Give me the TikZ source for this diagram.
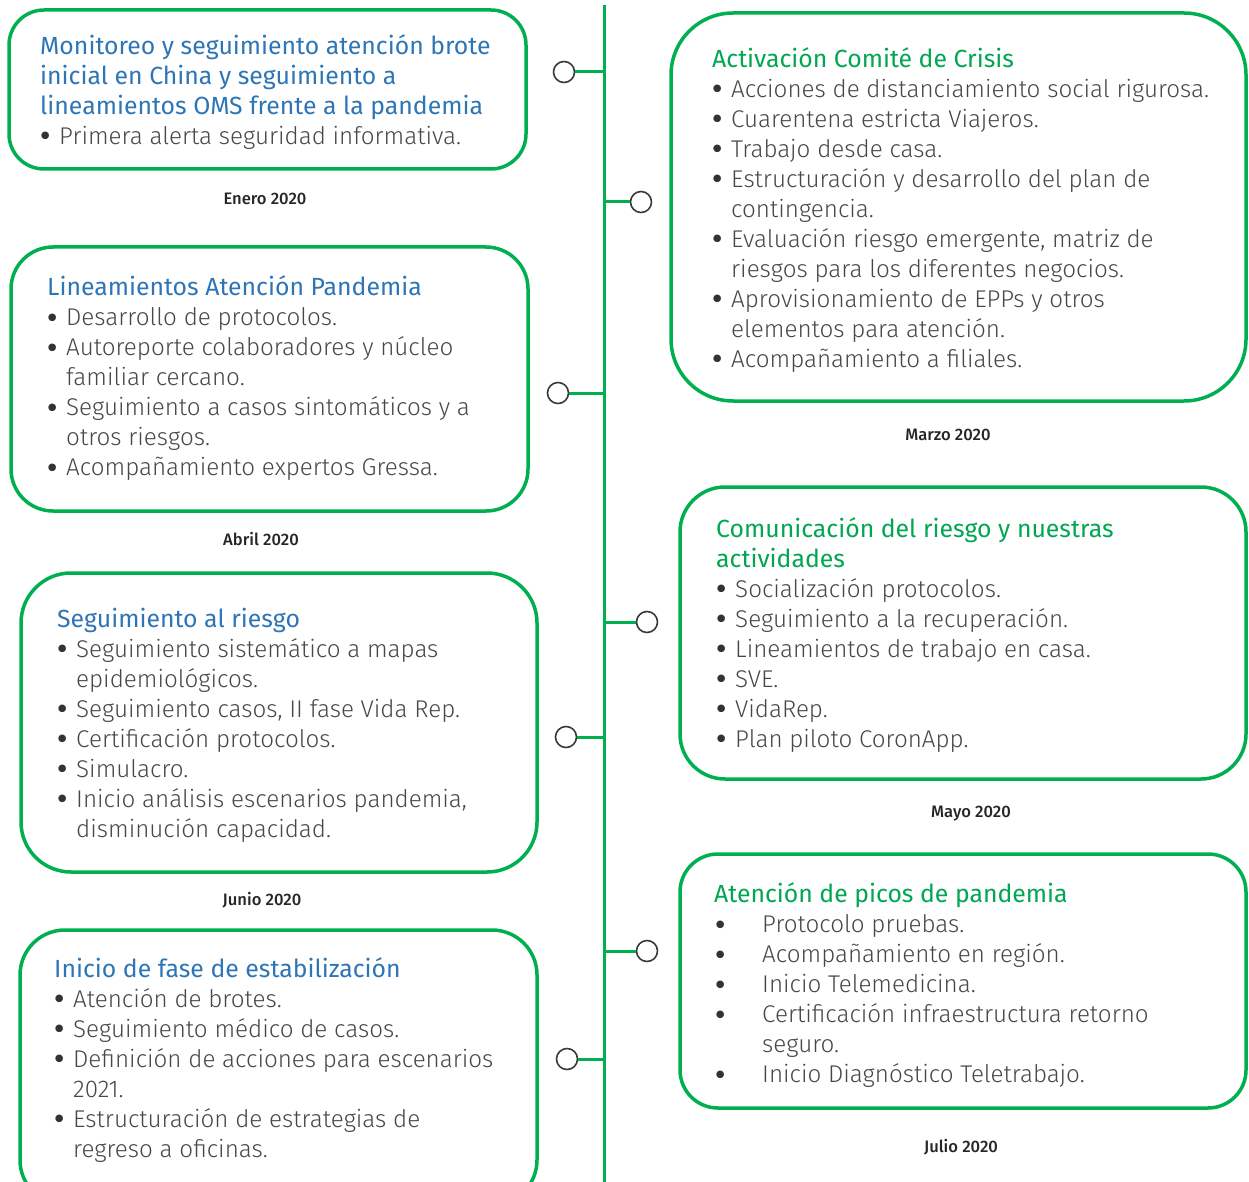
\documentclass[tikz,border=0pt]{standalone}
\usepackage{fontspec}
\setmainfont{Fira Sans}
\newfontfamily\bodyfont{Fira Sans Light}
\newfontfamily\datefont{Fira Sans Medium}
\newfontfamily\bulfont{DejaVu Sans}
\definecolor{tlgreen}{HTML}{00B050}
\definecolor{ttblue}{HTML}{2E75B6}
\definecolor{ttgreen}{HTML}{00A651}
\definecolor{bodygray}{HTML}{474747}
\definecolor{ringgray}{HTML}{3A3A3A}
\newcommand{\ttlb}[1]{{\rmfamily\fontsize{24.8}{30}\selectfont\color{ttblue}#1}}
\newcommand{\ttlg}[1]{{\rmfamily\fontsize{24.8}{30}\selectfont\color{ttgreen}#1}}
\newcommand{\bul}{{\bulfont\fontsize{26}{30}\selectfont\color{black!80}\raisebox{-1.5pt}{•}}}
\newcommand{\itm}[1]{\hspace*{5pt}\makebox[0pt]{\bul}\hspace*{14pt}#1}
\newcommand{\itmw}[1]{\hspace*{6pt}\makebox[0pt]{\bul}\hspace*{42pt}#1}
\newcommand{\cnt}[1]{\hspace*{19pt}#1}
\newcommand{\cntw}[1]{\hspace*{48pt}#1}
\begin{document}
\begin{tikzpicture}[x=1pt,y=-1pt,
  tlbox/.style={draw=tlgreen, line width=3.5pt, rounded corners=#1, inner sep=0pt, rectangle},
  txt/.style={anchor=west, align=left, inner sep=0pt, text=bodygray,
    font=\bodyfont\fontsize{24.2}{30}\selectfont},
  ring/.style={circle, draw=ringgray, line width=1.6pt, fill=white, minimum size=21pt, inner sep=0pt},
  conn/.style={draw=tlgreen, line width=3pt},
  datelbl/.style={font=\datefont\fontsize{16.6}{18}\selectfont, text=black!85, inner sep=0pt}]
\useasboundingbox (0,0) rectangle (1249,1182);
\clip (0,0) rectangle (1249,1182);

% timeline
\coordinate (top) at (604,5);
\coordinate (bot) at (604,1182);
\draw[conn] (top) -- (bot);

% junctions on timeline
\coordinate (j1) at (604,72);
\coordinate (j2) at (604,202);
\coordinate (j3) at (604,393);
\coordinate (j4) at (604,622);
\coordinate (j5) at (604,737);
\coordinate (j6) at (604,951);
\coordinate (j7) at (604,1059);

% rings
\node[ring] (c1) at (564,72) {};
\node[ring] (c2) at (641,202) {};
\node[ring] (c3) at (558,393) {};
\node[ring] (c4) at (647,622) {};
\node[ring] (c5) at (566,737) {};
\node[ring] (c6) at (647,951) {};
\node[ring] (c7) at (567,1059) {};
\foreach \i in {1,...,7} \draw[conn] (c\i) -- (j\i);

% boxes
\node[tlbox=35pt, minimum width=517pt, minimum height=159pt] (b1) at (267.5,89.5) {};
\node[tlbox=62pt, minimum width=575pt, minimum height=388pt] (b2) at (958.5,207) {};
\node[tlbox=42pt, minimum width=517pt, minimum height=264pt] (b3) at (269.5,379) {};
\node[tlbox=45pt, minimum width=566pt, minimum height=292pt] (b4) at (963,633) {};
\node[tlbox=50pt, minimum width=516pt, minimum height=299pt] (b5) at (279,722.5) {};
\node[tlbox=38pt, minimum width=566pt, minimum height=254pt] (b6) at (963,981) {};
\node[tlbox=45pt, minimum width=517pt, minimum height=275pt] (b7) at (278.5,1067.5) {};

% texts
\node[txt] (t1) at (40,92) {%
\ttlb{Monitoreo y seguimiento atención brote}\\
\ttlb{inicial en China y seguimiento a}\\
\ttlb{lineamientos OMS frente a la pandemia}\\
\itm{Primera alerta seguridad informativa.}};

\node[txt] (t2) at (712,210) {%
\ttlg{Activación Comité de Crisis}\\
\itm{Acciones de distanciamiento social rigurosa.}\\
\itm{Cuarentena estricta Viajeros.}\\
\itm{Trabajo desde casa.}\\
\itm{Estructuración y desarrollo del plan de}\\
\cnt{contingencia.}\\
\itm{Evaluación riesgo emergente, matriz de}\\
\cnt{riesgos para los diferentes negocios.}\\
\itm{Aprovisionamiento de EPPs y otros}\\
\cnt{elementos para atención.}\\
\itm{Acompañamiento a filiales.}};

\node[txt] (t3) at (47,378.5) {%
\ttlb{Lineamientos Atención Pandemia}\\
\itm{Desarrollo de protocolos.}\\
\itm{Autoreporte colaboradores y núcleo}\\
\cnt{familiar cercano.}\\
\itm{Seguimiento a casos sintomáticos y a}\\
\cnt{otros riesgos.}\\
\itm{Acompañamiento expertos Gressa.}};

\node[txt] (t4) at (716,635) {%
\ttlg{Comunicación del riesgo y nuestras}\\
\ttlg{actividades}\\
\itm{Socialización protocolos.}\\
\itm{Seguimiento a la recuperación.}\\
\itm{Lineamientos de trabajo en casa.}\\
\itm{SVE.}\\
\itm{VidaRep.}\\
\itm{Plan piloto CoronApp.}};

\node[txt] (t5) at (57,725) {%
\ttlb{Seguimiento al riesgo}\\
\itm{Seguimiento sistemático a mapas}\\
\cnt{epidemiológicos.}\\
\itm{Seguimiento casos, II fase Vida Rep.}\\
\itm{Certificación protocolos.}\\
\itm{Simulacro.}\\
\itm{Inicio análisis escenarios pandemia,}\\
\cnt{disminución capacidad.}};

\node[txt] (t6) at (714,985.5) {%
\ttlg{Atención de picos de pandemia}\\
\itmw{Protocolo pruebas.}\\
\itmw{Acompañamiento en región.}\\
\itmw{Inicio Telemedicina.}\\
\itmw{Certificación infraestructura retorno}\\
\cntw{seguro.}\\
\itmw{Inicio Diagnóstico Teletrabajo.}};

\node[txt] (t7) at (54,1060) {%
\ttlb{Inicio de fase de estabilización}\\
\itm{Atención de brotes.}\\
\itm{Seguimiento médico de casos.}\\
\itm{Definición de acciones para escenarios}\\
\cnt{2021.}\\
\itm{Estructuración de estrategias de}\\
\cnt{regreso a oficinas.}};

% dates
\node[datelbl] (d1) at (265,199) {Enero 2020};
\node[datelbl] (d2) at (948,435) {Marzo 2020};
\node[datelbl] (d3) at (261,539) {Abril 2020};
\node[datelbl] (d4) at (971,814) {Mayo 2020};
\node[datelbl] (d5) at (262,900) {Junio 2020};
\node[datelbl] (d6) at (961,1147) {Julio 2020};
\end{tikzpicture}
\end{document}
